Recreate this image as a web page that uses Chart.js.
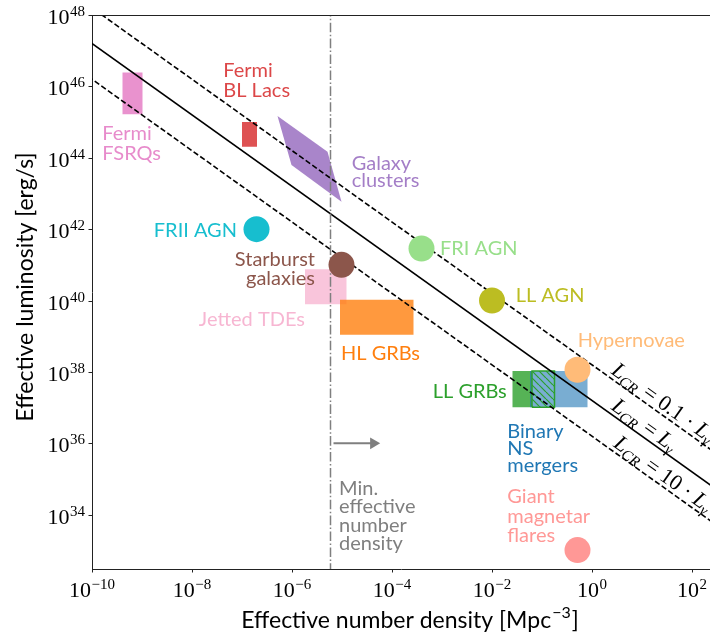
<!DOCTYPE html>
<html lang="en">
<head>
  <meta charset="UTF-8">
  <title>Effective luminosity vs effective number density</title>
  <script src="https://cdn.jsdelivr.net/npm/chart.js"></script>
  <style>
    html, body { margin: 0; padding: 0; background: #fff; }
    #wrap { width: 710px; height: 637px; }
  </style>
</head>
<body>
  <div id="wrap"><canvas id="lumChart" width="710" height="637"></canvas></div>

  <script>
    // everything in log10: x = number density [Mpc^-3], y = luminosity [erg/s]
    const xRange = [-10, 2.36];
    const yRange = [32.48, 48];
    const xTicks = [-10, -8, -6, -4, -2, 0, 2];
    const yTicks = [34, 36, 38, 40, 42, 44, 46, 48];

    // L_CR = k * L_gamma lines, stored as log10(L * n)
    const crLevels = [38.2, 37.2, 36.2];
    const crFactors = ['0.1', '', '10'];

    // minimum effective number density and its arrow (at 1e36 erg/s)
    const minDensity = -5.23;
    const arrowX = [-5.17, -4.40];
    const arrowY = 36;

    // point-like source classes
    const dotNames = ['FRII AGN', 'Starburst galaxies', 'FRI AGN', 'LL AGN', 'Hypernovae', 'Giant magnetar flares'];
    const dotLogN = [-6.71, -5.01, -3.41, -2.00, -0.29, -0.29];
    const dotLogL = [42.00, 41.00, 41.46, 40.00, 38.06, 33.01];

    // box-shaped source classes: [min, max]
    const boxNames = ['Fermi FSRQs', 'Fermi BL Lacs', 'Jetted TDEs', 'HL GRBs', 'LL GRBs', 'Binary NS mergers'];
    const boxLogN = [[-9.39, -8.99], [-7.00, -6.70], [-5.74, -4.91], [-5.04, -3.57], [-1.59, -1.20], [-1.24, -0.09]];
    const boxLogL = [[45.22, 46.39], [44.31, 45.00], [39.90, 40.88], [39.04, 40.02], [37.01, 38.03], [37.01, 38.03]];
    // part of the LL GRB range overlapping the NS mergers (hatched)
    const hatchLogN = [-1.20, -0.75];

    // galaxy clusters region (corners)
    const clusterLogN = [-6.29, -5.29, -5.01, -6.01];
    const clusterLogL = [45.17, 44.17, 42.77, 43.80];

    const colors = {
      'FRII AGN': '#17becf',
      'Starburst galaxies': '#8c564b',
      'FRI AGN': '#98df8a',
      'LL AGN': '#bcbd22',
      'Hypernovae': '#ffbb78',
      'Giant magnetar flares': '#ff9896',
      'Fermi FSRQs': '#e377c2',
      'Fermi BL Lacs': '#d62728',
      'Jetted TDEs': '#f7b6d2',
      'HL GRBs': '#ff7f0e',
      'LL GRBs': '#2ca02c',
      'Binary NS mergers': '#1f77b4',
      'Galaxy clusters': '#9467bd'
    };
    const boxAlpha = { 'Binary NS mergers': 0.6 };

    const sans = 'Lato, "Noto Sans", sans-serif';
    const serif = '"Liberation Serif", "DejaVu Serif", serif';

    function rgba(hex, a) {
      const n = parseInt(hex.slice(1), 16);
      return `rgba(${n >> 16}, ${(n >> 8) & 255}, ${n & 255}, ${a})`;
    }
    const pt = (lx, ly) => ({ x: 10 ** lx, y: 10 ** ly });
    function boxPts(xs, ys) {
      return [pt(xs[0], ys[0]), pt(xs[1], ys[0]), pt(xs[1], ys[1]), pt(xs[0], ys[1]), pt(xs[0], ys[0])];
    }

    // green "\\" hatch
    function hatchPattern(color) {
      const s = 7, c = document.createElement('canvas');
      c.width = s; c.height = s;
      const g = c.getContext('2d');
      g.strokeStyle = color; g.lineWidth = 1.2;
      for (const k of [-1, 0, 1]) {
        g.beginPath(); g.moveTo(k * s, 0); g.lineTo(k * s + s, s); g.stroke();
      }
      return g.createPattern(c, 'repeat');
    }

    const datasets = [];

    // source points (on top)
    datasets.push({
      data: dotLogN.map((v, i) => pt(v, dotLogL[i])),
      pointRadius: 13,
      pointHoverRadius: 13,
      pointBackgroundColor: dotNames.map(n => colors[n]),
      pointBorderWidth: 0,
      order: 0
    });

    // minimum density marker
    datasets.push({
      data: [pt(minDensity, yRange[0] - 1), pt(minDensity, yRange[1] + 1)],
      showLine: true, pointRadius: 0,
      borderColor: '#7f7f7f', borderWidth: 1.5,
      borderDash: [9.6, 2.4, 1.5, 2.4],
      order: 1
    });
    datasets.push({
      data: arrowX.map(v => pt(v, arrowY)),
      showLine: true, pointRadius: 0,
      borderColor: '#7f7f7f', borderWidth: 2,
      order: 1
    });
    datasets.push({
      data: [pt(arrowX[1] + 0.03, arrowY)],
      pointStyle: 'triangle', rotation: 90,
      pointRadius: 6.7, pointBorderWidth: 0,
      pointBackgroundColor: '#7f7f7f',
      order: 1
    });

    // L_CR lines
    crLevels.forEach((c, i) => {
      datasets.push({
        data: [pt(-11, c + 11), pt(3, c - 3)],
        showLine: true, pointRadius: 0,
        borderColor: '#000', borderWidth: 1.6,
        borderDash: crFactors[i] ? [5.5, 2.6] : [],
        order: 2
      });
    });

    // hatched overlap, then the boxes underneath
    datasets.push({
      data: boxPts(hatchLogN, boxLogL[4]),
      showLine: true, pointRadius: 0, fill: 'shape',
      backgroundColor: hatchPattern(colors['LL GRBs']),
      borderColor: colors['LL GRBs'], borderWidth: 1.5,
      order: 3
    });
    boxNames.forEach((name, i) => {
      datasets.push({
        data: boxPts(boxLogN[i], boxLogL[i]),
        showLine: true, pointRadius: 0, fill: 'shape',
        backgroundColor: rgba(colors[name], boxAlpha[name] || 0.8),
        borderWidth: 0, borderColor: 'transparent',
        order: name === 'Binary NS mergers' ? 4 : (name === 'HL GRBs' ? 5 : 6)
      });
    });
    datasets.push({
      data: clusterLogN.concat(clusterLogN[0]).map((v, i) => pt(v, clusterLogL.concat(clusterLogL[0])[i])),
      showLine: true, pointRadius: 0, fill: 'shape',
      backgroundColor: rgba(colors['Galaxy clusters'], 0.8),
      borderWidth: 0, borderColor: 'transparent',
      order: 6
    });

    // text labels: anchor in log units, first line baseline, px between lines
    const labels = [
      { lines: ['Fermi', 'FSRQs'], x: -9.794, y: 44.50, gap: 20.5, align: 'left', color: rgba(colors['Fermi FSRQs'], 0.85) },
      { lines: ['Fermi', 'BL Lacs'], x: -7.374, y: 46.27, gap: 20.3, align: 'left', color: rgba(colors['Fermi BL Lacs'], 0.85) },
      { lines: ['Galaxy', 'clusters'], x: -4.806, y: 43.66, gap: 17.5, align: 'left', color: rgba(colors['Galaxy clusters'], 0.85) },
      { lines: ['FRII AGN'], x: -7.10, y: 41.77, align: 'right', color: colors['FRII AGN'] },
      { lines: ['Starburst', 'galaxies'], x: -5.54, y: 40.97, gap: 19, align: 'right', color: colors['Starburst galaxies'] },
      { lines: ['Jetted TDEs'], x: -5.74, y: 39.29, align: 'right', color: colors['Jetted TDEs'] },
      { lines: ['HL GRBs'], x: -5.02, y: 38.34, align: 'left', color: colors['HL GRBs'] },
      { lines: ['FRI AGN'], x: -3.04, y: 41.28, align: 'left', color: colors['FRI AGN'] },
      { lines: ['LL AGN'], x: -1.526, y: 39.97, align: 'left', color: colors['LL AGN'] },
      { lines: ['Hypernovae'], x: -0.286, y: 38.69, align: 'left', color: colors['Hypernovae'] },
      { lines: ['LL GRBs'], x: -1.706, y: 37.28, align: 'right', color: colors['LL GRBs'] },
      { lines: ['Binary', 'NS', 'mergers'], x: -1.694, y: 36.14, gap: 17, align: 'left', color: colors['Binary NS mergers'] },
      { lines: ['Giant', 'magnetar', 'flares'], x: -1.694, y: 34.32, gap: 19.2, align: 'left', color: colors['Giant magnetar flares'] },
      { lines: ['Min.', 'effective', 'number', 'density'], x: -5.06, y: 34.55, gap: 18.3, align: 'left', color: '#7f7f7f' }
    ];
    // where each L_CR label starts along its line (log n)
    const crLabelAt = [0.32, 0.32, 0.365];

    function drawPow(ctx, exp, x, base, align) {
      const e = exp < 0 ? '\u2212' + (-exp) : String(exp);
      ctx.font = `22px ${serif}`;
      const w1 = ctx.measureText('10').width;
      ctx.font = `15px ${serif}`;
      const w2 = ctx.measureText(e).width;
      const x0 = align === 'right' ? x - w1 - w2 - 0.5 : x - (w1 + w2 + 0.5) / 2;
      ctx.textAlign = 'left';
      ctx.textBaseline = 'alphabetic';
      ctx.font = `22px ${serif}`;
      ctx.fillText('10', x0, base);
      ctx.font = `15px ${serif}`;
      ctx.fillText(e, x0 + w1 + 0.5, base - 8);
    }

    // sequence of math pieces drawn left to right
    function drawMath(ctx, parts, x, y) {
      let cx = x;
      for (const p of parts) {
        const size = p.sub ? 15 : 22;
        ctx.font = `${p.it ? 'italic ' : ''}${size}px ${serif}`;
        ctx.fillText(p.t, cx, y + (p.sub ? 4 : 0));
        cx += ctx.measureText(p.t).width + (p.sub ? 1.5 : 0);
      }
    }

    const decorations = {
      id: 'decorations',
      afterDraw(chart) {
        const { ctx, chartArea: a, scales: { x, y } } = chart;
        ctx.save();

        // top spine
        ctx.strokeStyle = '#222';
        ctx.lineWidth = 1;
        ctx.beginPath();
        ctx.moveTo(a.left, Math.round(a.top) + 0.5);
        ctx.lineTo(a.right, Math.round(a.top) + 0.5);
        ctx.stroke();

        // tick marks and labels
        ctx.fillStyle = '#000';
        ctx.beginPath();
        xTicks.forEach(v => {
          const px = Math.round(x.getPixelForValue(10 ** v)) + 0.5;
          ctx.moveTo(px, a.bottom); ctx.lineTo(px, a.bottom + 3.5);
        });
        yTicks.forEach(v => {
          const py = Math.round(y.getPixelForValue(10 ** v)) + 0.5;
          ctx.moveTo(a.left, py); ctx.lineTo(a.left - 3.5, py);
        });
        ctx.stroke();
        xTicks.forEach(v => drawPow(ctx, v, x.getPixelForValue(10 ** v), a.bottom + 27.5, 'center'));
        yTicks.forEach(v => drawPow(ctx, v, a.left - 7, y.getPixelForValue(10 ** v) + 9, 'right'));

        // axis titles
        ctx.fillStyle = '#000';
        ctx.textBaseline = 'alphabetic';
        const tf = `23px ${sans}`, sf = `16px ${sans}`;
        ctx.font = tf;
        const t1 = 'Effective number density [Mpc', t2 = '\u22123', t3 = ']';
        const w1 = ctx.measureText(t1).width, w3 = ctx.measureText(t3).width;
        ctx.font = sf;
        const w2 = ctx.measureText(t2).width;
        const tx = 409 - (w1 + w2 + w3) / 2;
        ctx.textAlign = 'left';
        ctx.font = tf;
        ctx.fillText(t1, tx, 628);
        ctx.font = sf;
        ctx.fillText(t2, tx + w1 + 1, 618);
        ctx.font = tf;
        ctx.fillText(t3, tx + w1 + w2 + 2, 628);

        ctx.save();
        ctx.translate(33, 287);
        ctx.rotate(-Math.PI / 2);
        ctx.textAlign = 'center';
        ctx.fillText('Effective luminosity [erg/s]', 0, 0);
        ctx.restore();

        // source labels
        ctx.font = `20px ${sans}`;
        labels.forEach(l => {
          ctx.fillStyle = l.color;
          ctx.textAlign = l.align;
          const px = x.getPixelForValue(10 ** l.x);
          const py = y.getPixelForValue(10 ** l.y);
          l.lines.forEach((s, i) => ctx.fillText(s, px, py + i * (l.gap || 0)));
        });

        // L_CR labels rotated along the lines
        ctx.beginPath();
        ctx.rect(a.left, a.top, a.right - a.left, a.bottom - a.top);
        ctx.clip();
        const dx = x.getPixelForValue(10) - x.getPixelForValue(1);
        const dy = y.getPixelForValue(1) - y.getPixelForValue(10);
        const ang = Math.atan2(dy, dx);
        ctx.fillStyle = '#000';
        ctx.textAlign = 'left';
        crLevels.forEach((c, i) => {
          const ln = crLabelAt[i];
          const px = x.getPixelForValue(10 ** ln);
          const py = y.getPixelForValue(10 ** (c - ln));
          const parts = [{ t: 'L', it: true }, { t: 'CR', it: true, sub: true }, { t: ' = ' }];
          if (crFactors[i]) parts.push({ t: crFactors[i] + ' \u00b7 ' });
          parts.push({ t: 'L', it: true }, { t: '\u03b3', it: true, sub: true });
          ctx.save();
          ctx.translate(px, py);
          ctx.rotate(ang);
          drawMath(ctx, parts, 0, -4);
          ctx.restore();
        });

        ctx.restore();
      }
    };

    new Chart(document.getElementById('lumChart'), {
      type: 'scatter',
      data: { datasets },
      options: {
        responsive: false,
        animation: false,
        layout: { autoPadding: false, padding: { left: 92, top: 15, right: 0, bottom: 68 } },
        plugins: { legend: { display: false }, tooltip: { enabled: false } },
        scales: {
          x: {
            type: 'logarithmic',
            min: 10 ** xRange[0], max: 10 ** xRange[1],
            grid: { display: false },
            border: { display: true, color: '#222', width: 1 },
            ticks: { display: false },
            afterFit: s => { s.height = 0; }
          },
          y: {
            type: 'logarithmic',
            min: 10 ** yRange[0], max: 10 ** yRange[1],
            grid: { display: false },
            border: { display: true, color: '#222', width: 1 },
            ticks: { display: false },
            afterFit: s => { s.width = 0; }
          }
        }
      },
      plugins: [decorations]
    });
  </script>
</body>
</html>
